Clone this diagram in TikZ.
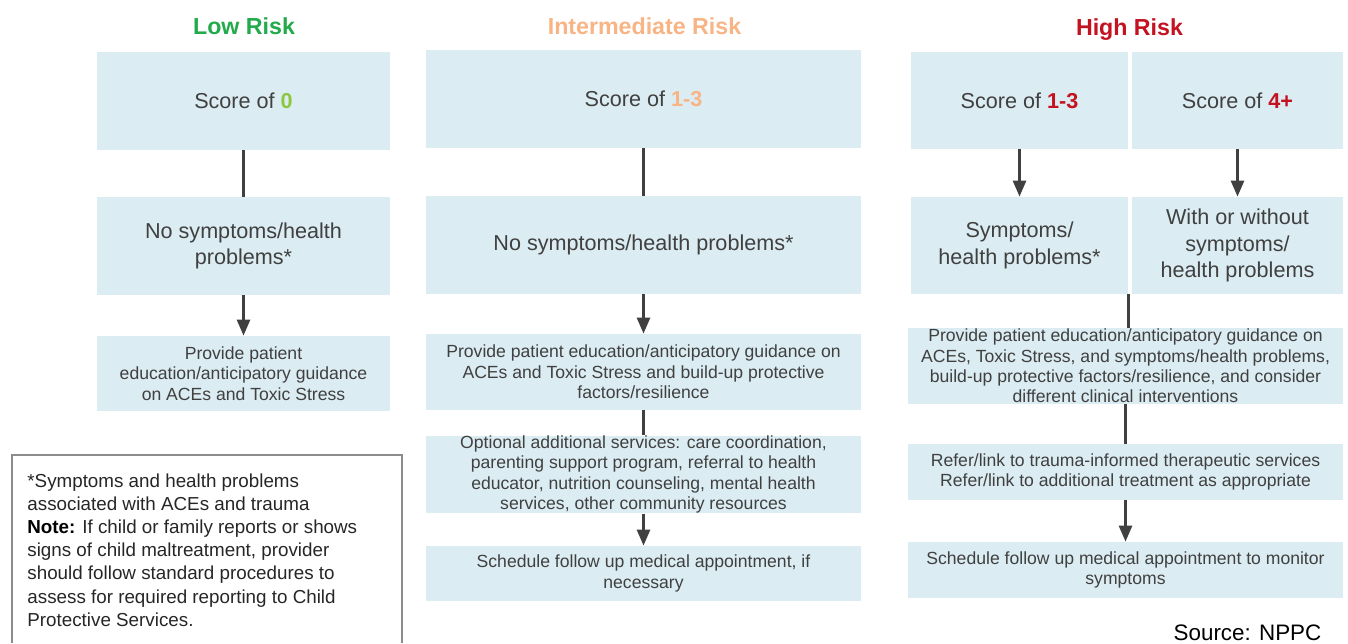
\documentclass[tikz,border=0pt]{standalone}
\usepackage{fontspec}
\setmainfont{Liberation Sans}
\usetikzlibrary{arrows.meta}
\definecolor{boxblue}{RGB}{219,236,242}
\definecolor{ink}{RGB}{64,64,64}
\definecolor{notetext}{RGB}{38,38,38}
\definecolor{notegray}{RGB}{140,140,140}
\definecolor{lowgreen}{RGB}{34,170,75}
\definecolor{zerogreen}{RGB}{141,198,63}
\definecolor{midorange}{RGB}{248,180,132}
\definecolor{highred}{RGB}{196,18,32}
\begin{document}
\begin{tikzpicture}[x=0.5pt, y=-0.5pt,
    box/.style={fill=boxblue, text=ink, inner sep=0pt, align=center,
        font=\fontsize{10.8}{13.2}\selectfont},
    smallbox/.style={box, font=\fontsize{8.8}{10.2}\selectfont},
    narrow/.style={minimum width=146.5pt},
    wide/.style={minimum width=217.5pt},
    title/.style={anchor=base, font=\fontsize{11.6}{14}\selectfont\bfseries},
    link/.style={draw=ink, line width=1.4pt},
    arrow/.style={link, -{Triangle[width=6.5pt,length=8pt]}}]
    \useasboundingbox (0,0) rectangle (1348,643);

    % low risk
    \node[title, text=lowgreen] (ltitle) at (244,34) {Low Risk};
    \node[box, narrow, minimum height=49pt] (lscore) at (243.5,101) {Score of \textbf{\color{zerogreen}0}};
    \node[box, narrow, minimum height=49pt] (lsym) at (243.5,246) {No symptoms/health\\problems*};
    \node[smallbox, narrow, minimum height=37.5pt] (lprov) at (243.5,373.5)
        {Provide patient\\education/anticipatory guidance\\on ACEs and Toxic Stress};
    \draw[link] (lscore) -- (lsym);
    \draw[arrow] (lsym) -- (lprov);

    % intermediate risk
    \node[title, text=midorange] (ititle) at (644.5,34) {Intermediate Risk};
    \node[box, wide, minimum height=49pt] (iscore) at (643.5,99) {Score of \textbf{\color{midorange}1-3}};
    \node[box, wide, minimum height=49pt] (isym) at (643.5,245) {No symptoms/health problems*};
    \node[smallbox, wide, minimum height=38pt] (iprov) at (643.5,372)
        {Provide patient education/anticipatory guidance on\\ACEs and Toxic Stress and build-up protective\\factors/resilience};
    \node[smallbox, wide, minimum height=38.5pt] (iopt) at (643.5,474.5)
        {Optional additional services: care coordination,\\parenting support program, referral to health\\educator, nutrition counseling, mental health\\services, other community resources};
    \node[smallbox, wide, minimum height=27.5pt] (isched) at (643.5,573.5)
        {Schedule follow up medical appointment, if\\necessary};
    \draw[link] (iscore) -- (isym);
    \draw[arrow] (isym) -- (iprov);
    \draw[link] (iprov) -- (iopt);
    \draw[arrow] (iopt) -- (isched);

    % high risk
    \node[title, text=highred] (htitle) at (1129.5,35) {High Risk};
    \node[box, minimum width=108.5pt, minimum height=48.5pt] (hscorea) at (1019.5,100.5) {Score of \textbf{\color{highred}1-3}};
    \node[box, minimum width=105.5pt, minimum height=48.5pt] (hscoreb) at (1237.5,100.5) {Score of \textbf{\color{highred}4+}};
    \node[box, minimum width=108.5pt, minimum height=48.5pt] (hsyma) at (1019.5,245.5) {Symptoms/\\health problems*};
    \node[box, minimum width=105.5pt, minimum height=48.5pt] (hsymb) at (1237.5,245.5) {With or without\\symptoms/\\health problems};
    \node[smallbox, wide, minimum height=38pt] (hprov) at (1125.5,366)
        {Provide patient education/anticipatory guidance on\\ACEs, Toxic Stress, and symptoms/health problems,\\build-up protective factors/resilience, and consider\\different clinical interventions};
    \node[smallbox, wide, minimum height=28pt] (hrefer) at (1125.5,472)
        {Refer/link to trauma-informed therapeutic services\\Refer/link to additional treatment as appropriate};
    \node[smallbox, wide, minimum height=28pt] (hsched) at (1125.5,570)
        {Schedule follow up medical appointment to monitor\\symptoms};
    \draw[arrow] (hscorea) -- (hsyma);
    \draw[arrow] (hscoreb) -- (hsymb);
    \draw[link] (hsyma.south east) -- (hsyma.south east |- hprov.north);
    \draw[link] (hprov) -- (hrefer);
    \draw[arrow] (hrefer) -- (hsched);

    % footnote box, open at the bottom edge
    \draw[notegray, line width=0.8pt] (12,643) |- (402,455) -- (402,643);
    \node[anchor=north west, inner sep=0pt, align=left, text=notetext,
        font=\fontsize{9.4}{11.6}\selectfont] (note) at (27,473)
        {*Symptoms and health problems\\associated with ACEs and trauma\\
         \textbf{\color{black}Note:} If child or family reports or shows\\
         signs of child maltreatment, provider\\should follow standard procedures to\\
         assess for required reporting to Child\\Protective Services.};

    \node[anchor=base, inner sep=0pt, text=black, font=\fontsize{11.2}{13}\selectfont] (source) at (1247.5,640) {Source: NPPC};
\end{tikzpicture}
\end{document}
